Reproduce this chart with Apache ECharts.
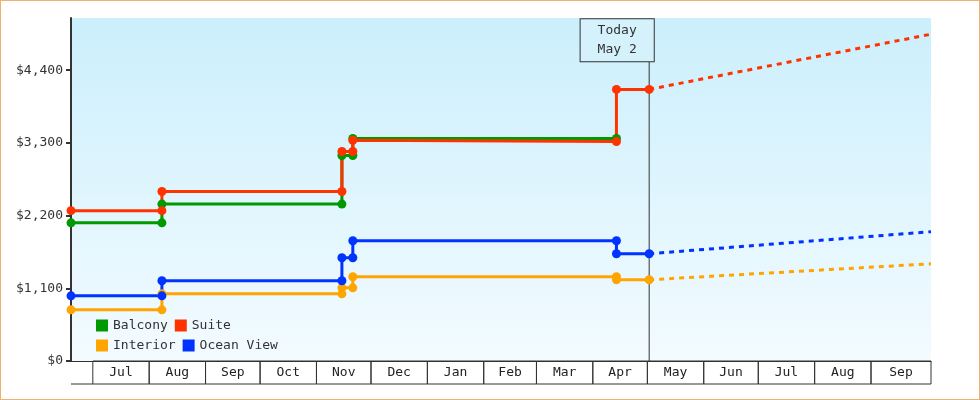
<!DOCTYPE html>
<html><head><meta charset="utf-8">
<script src="https://cdn.jsdelivr.net/npm/echarts@6/dist/echarts.min.js"></script>
<style>body{margin:0}#c{width:978px;height:398px;border:1px solid #f0b070}</style>
</head><body><div id="c"></div>
<script>
var balcony = [['2023-06-19',2090],['2023-08-08',2090],['2023-08-08',2374],['2023-11-15',2374],['2023-11-15',3110],['2023-11-21',3110],['2023-11-21',3368],['2024-04-14',3368]];
var suite = [['2023-06-19',2275],['2023-08-08',2275],['2023-08-08',2564],['2023-11-15',2564],['2023-11-15',3170],['2023-11-21',3170],['2023-11-21',3340],['2024-04-14',3320],['2024-04-14',4110],['2024-05-02',4110]];
var interior = [['2023-06-19',774],['2023-08-08',774],['2023-08-08',1016],['2023-11-15',1016],['2023-11-15',1107],['2023-11-21',1107],['2023-11-21',1274],['2024-04-14',1274],['2024-04-14',1229],['2024-05-02',1229]];
var ocean = [['2023-06-19',986],['2023-08-08',986],['2023-08-08',1214],['2023-11-15',1214],['2023-11-15',1562],['2023-11-21',1562],['2023-11-21',1820],['2024-04-14',1820],['2024-04-14',1623],['2024-05-02',1623]];
var suiteFc = [['2024-05-02',4110],['2024-10-04',4945]];
var oceanFc = [['2024-05-02',1623],['2024-10-04',1957]];
var interiorFc = [['2024-05-02',1229],['2024-10-04',1471]];
var months = ['2023-07-01','2023-08-01','2023-09-01','2023-10-01','2023-11-01','2023-12-01','2024-01-01','2024-02-01','2024-03-01','2024-04-01','2024-05-01','2024-06-01','2024-07-01','2024-08-01','2024-09-01','2024-10-04'];
var monthNames = ['Jul','Aug','Sep','Oct','Nov','Dec','Jan','Feb','Mar','Apr','May','Jun','Jul','Aug','Sep'];
var today = '2024-05-02';
var font = 'DejaVu Sans Mono';

function stepLine(name, color, data) {
  return {name: name, type: 'line', data: data, color: color, symbol: 'circle', symbolSize: 9,
    lineStyle: {width: 3, color: color}, itemStyle: {color: color}, z: 3};
}
function dashLine(color, data) {
  return {type: 'line', data: data, symbol: 'none', silent: true,
    lineStyle: {width: 3, color: color, type: [5, 5]}, z: 2};
}
function ts(d) { return +new Date(d + 'T00:00:00'); }
var monthBoxes = monthNames.map(function (m, i) { return [ts(months[i]), ts(months[i + 1])]; });

var chart = echarts.init(document.getElementById('c'));
chart.setOption({
  animation: false,
  textStyle: {fontFamily: font},
  grid: {left: 70, right: 48, top: 17, bottom: 38,
    show: true, borderWidth: 0,
    backgroundColor: {type: 'linear', x: 0, y: 0, x2: 0, y2: 1,
      colorStops: [{offset: 0, color: '#cbeffc'}, {offset: 1, color: '#f3fbff'}]}},
  legend: {data: ['Balcony', 'Suite', 'Interior', 'Ocean View'], left: 90, top: 313, width: 210,
    itemWidth: 12, itemHeight: 12, itemGap: 7, icon: 'rect',
    textStyle: {fontFamily: font, fontSize: 13, color: '#333'}},
  xAxis: {type: 'time', min: '2023-06-19', max: '2024-10-04',
    axisLine: {lineStyle: {color: '#333'}}, axisTick: {show: false},
    axisLabel: {show: false}, splitLine: {show: false}},
  yAxis: {type: 'value', min: 0, max: 5190, interval: 1100,
    axisLine: {show: true, lineStyle: {color: '#333', width: 2}},
    axisTick: {show: true, length: 5, lineStyle: {color: '#333', width: 2}},
    splitLine: {show: false},
    axisLabel: {showMaxLabel: false, color: '#333', fontFamily: font, fontSize: 13,
      formatter: function (v) { return '$' + v.toLocaleString('en-US'); }}},
  series: [
    stepLine('Balcony', '#009900', balcony),
    stepLine('Suite', '#ff3300', suite),
    stepLine('Interior', '#ffa500', interior),
    stepLine('Ocean View', '#0033ff', ocean),
    dashLine('#ff3300', suiteFc),
    dashLine('#0033ff', oceanFc),
    dashLine('#ffa500', interiorFc),
    {type: 'line', data: [[today, 0], [today, 4550]], symbol: 'none', silent: true,
      lineStyle: {width: 1, color: '#333'}, z: 1,
      endLabel: {show: true, formatter: 'Today\nMay 2', align: 'center', offset: [-40, -20],
        fontFamily: font, fontSize: 13, color: '#333', lineHeight: 19,
        backgroundColor: '#d4f1fc', borderColor: '#333', borderWidth: 1, padding: [2, 17]}},
    {type: 'custom', data: monthBoxes, dimensions: ['s', 'e'], silent: true, clip: false,
      encode: {x: [0, 1]},
      renderItem: function (params, api) {
        var a = api.coord([api.value(0), 0]);
        var b = api.coord([api.value(1), 0]);
        return {type: 'group', children: [
          {type: 'rect', shape: {x: a[0], y: a[1], width: b[0] - a[0], height: 23},
            style: {fill: 'none', stroke: '#333', lineWidth: 1}},
          {type: 'text', style: {text: monthNames[params.dataIndex], x: (a[0] + b[0]) / 2, y: a[1] + 12,
            align: 'center', verticalAlign: 'middle', fill: '#222', font: '13px ' + font}}
        ]};
      }},
    {type: 'custom', data: [[ts('2023-06-19'), ts('2023-07-01')]], dimensions: ['s', 'e'], silent: true, clip: false,
      encode: {x: [0, 1]},
      renderItem: function (params, api) {
        var a = api.coord([api.value(0), 0]);
        var b = api.coord([api.value(1), 0]);
        return {type: 'line', shape: {x1: a[0], y1: a[1] + 23, x2: b[0], y2: a[1] + 23},
          style: {stroke: '#333', lineWidth: 1}};
      }}
  ]
});
</script></body></html>
